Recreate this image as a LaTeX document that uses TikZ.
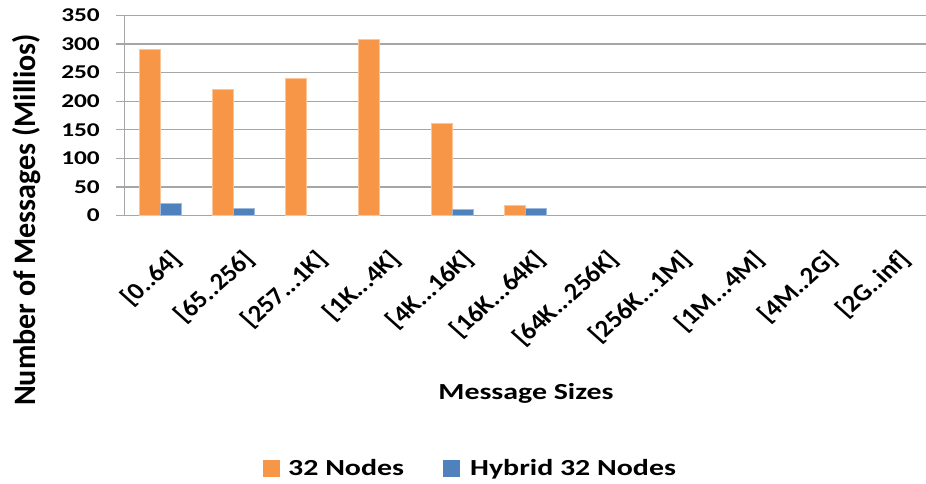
\documentclass[tikz,border=0pt]{standalone}
\usepackage{fontspec}
\setmainfont{Carlito}
\definecolor{barorange}{HTML}{F79646}
\definecolor{barblue}{HTML}{4F81BD}
\definecolor{gridgray}{HTML}{A6A6A6}
% horizontally widened text
\newcommand{\wide}[2][1.3]{\scalebox{#1}[1]{#2}}
\newcommand{\tall}[2][1.04]{\scalebox{1}[#1]{#2}}
% plot geometry (units are pixels)
\newcommand{\plotleft}{124.3}
\newcommand{\catw}{72.9}
\newcommand{\ybase}{215.5}
\newcommand{\yunit}{0.5714}
\newcommand{\catlabel}[3]{%
  \begin{scope}[shift={(\plotleft+\catw*#2-\catw/2+8,248)}, xscale=1.12]
    \node[catlab, transform shape] (#1) at (0,0) {#3};
  \end{scope}}
\newcommand{\orangebar}[3]{% name, category index, value
  \path ({\plotleft+\catw*(#2-0.5)-21},\ybase) coordinate (#1a)
        ({\plotleft+\catw*(#2-0.5)},{\ybase-#3*\yunit}) coordinate (#1b);
  \draw[bar32] (#1a) rectangle (#1b);}
\newcommand{\bluebar}[3]{% name, category index, value
  \path ({\plotleft+\catw*(#2-0.5)},\ybase) coordinate (#1a)
        ({\plotleft+\catw*(#2-0.5)+21},{\ybase-#3*\yunit}) coordinate (#1b);
  \draw[barhyb] (#1a) rectangle (#1b);}
\begin{document}
\begin{tikzpicture}[x=1pt,y=-1pt,
  grid/.style={draw=gridgray, line width=1.3pt},
  bar32/.style={fill=barorange, draw=barorange!55!white, line width=0.6pt},
  barhyb/.style={fill=barblue, draw=barblue!55!white, line width=0.6pt},
  ticklab/.style={font=\bfseries\fontsize{19.5}{19.5}\selectfont, anchor=east, inner sep=0pt},
  catlab/.style={font=\bfseries\fontsize{24}{24}\selectfont, anchor=north east, inner sep=0pt, rotate=45},
  titlelab/.style={font=\bfseries\fontsize{23}{23}\selectfont, inner sep=0pt},
  legkey/.style={inner sep=0pt, minimum size=17pt},
  legtext/.style={font=\bfseries\fontsize{23}{23}\selectfont, anchor=base west, inner sep=0pt}]
\useasboundingbox[fill=white] (0,0) rectangle (926,484);

% horizontal gridlines with their value labels
\foreach \v in {0,50,...,350}{
  \draw[grid] (116,{\ybase-\v*\yunit}) -- (926,{\ybase-\v*\yunit});
  \node[ticklab] (tick\v) at (100,{\ybase-\v*\yunit}) {\wide{\v}};
}
% vertical axis
\draw[grid] (\plotleft,{\ybase-350*\yunit}) coordinate (axtop) -- (\plotleft,\ybase) coordinate (axbot);

% bars: 32 Nodes (orange) and Hybrid 32 Nodes (blue)
\orangebar{o1}{1}{290}  \bluebar{h1}{1}{21}
\orangebar{o2}{2}{221}  \bluebar{h2}{2}{12}
\orangebar{o3}{3}{240}
\orangebar{o4}{4}{308}
\orangebar{o5}{5}{161}  \bluebar{h5}{5}{10}
\orangebar{o6}{6}{18}   \bluebar{h6}{6}{12}

% category labels
\catlabel{k1}{1}{[0..64]}
\catlabel{k2}{2}{[65..256]}
\catlabel{k3}{3}{[257...1K]}
\catlabel{k4}{4}{[1K...4K]}
\catlabel{k5}{5}{[4K...16K]}
\catlabel{k6}{6}{[16K...64K]}
\catlabel{k7}{7}{[64K...256K]}
\catlabel{k8}{8}{[256K...1M]}
\catlabel{k9}{9}{[1M...4M]}
\catlabel{k10}{10}{[4M..2G]}
\catlabel{k11}{11}{[2G..inf]}

% axis titles
\node[titlelab] (xtitle) at (526,393) {\wide{Message Sizes}};
\node[titlelab, rotate=90, font=\bfseries\fontsize{30}{30}\selectfont] (ytitle) at (27,220) {\tall{Number of Messages (Millios)}};

% legend
\node[legkey, fill=barorange] (key32) at (271.5,468.5) {};
\node[legtext] (txt32) at (288,475) {\wide{32 Nodes}};
\node[legkey, fill=barblue] (keyhyb) at (451,468.5) {};
\node[legtext] (txthyb) at (470,475) {\wide{Hybrid 32 Nodes}};
\end{tikzpicture}
\end{document}
